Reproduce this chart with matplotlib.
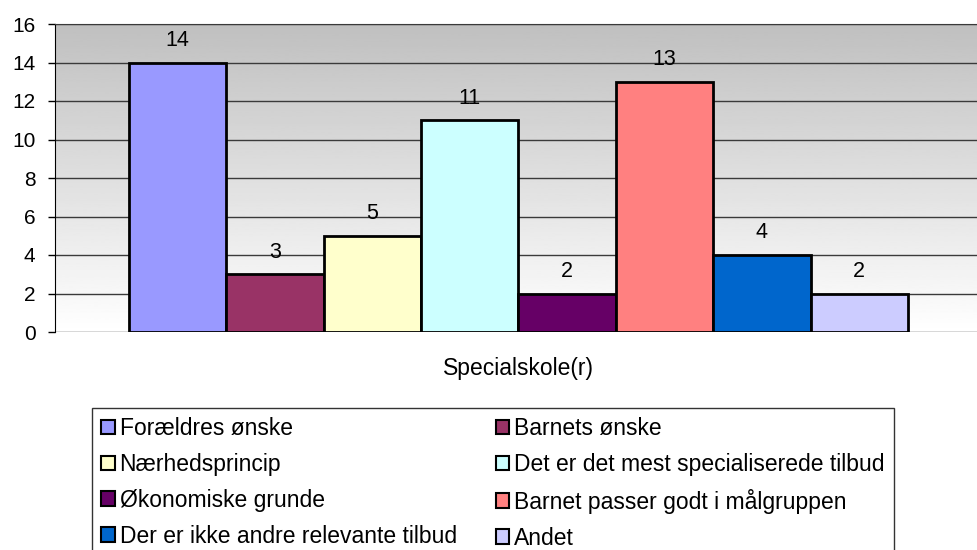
import numpy as np
import matplotlib.pyplot as plt
from matplotlib.patches import Patch

plt.rcParams['font.family'] = ['Liberation Sans', 'DejaVu Sans']

# data
categories = ['Forældres ønske', 'Barnets ønske', 'Nærhedsprincip',
              'Det er det mest specialiserede tilbud', 'Økonomiske grunde',
              'Barnet passer godt i målgruppen',
              'Der er ikke andre relevante tilbud', 'Andet']
values = [14, 3, 5, 11, 2, 13, 4, 2]
colors = ['#9999FF', '#993366', '#FFFFCC', '#CCFFFF',
          '#660066', '#FF8080', '#0066CC', '#CCCCFF']
group_label = 'Specialskole(r)'

fig = plt.figure(figsize=(9.77, 5.5), dpi=100)
ax = fig.add_axes([55 / 977, 1 - 332 / 550, 1 - 55 / 977, 308 / 550])

x = np.arange(len(values))
ax.set_xlim(-1.26, 8.21)
ax.set_ylim(0, 16)

# gray at the top fading to white at the bottom
grad = np.linspace(0.75, 1.0, 256).reshape(-1, 1)
ax.imshow(grad, cmap='gray', vmin=0, vmax=1, aspect='auto',
          extent=(-1.26, 8.21, 0, 16), origin='upper', zorder=0)

ax.set_yticks(np.arange(0, 17, 2))
ax.grid(axis='y', color='#3a3a3a', linewidth=1, zorder=1)
ax.set_axisbelow(True)

bars = ax.bar(x, values, width=1.0, color=colors, edgecolor='black',
              linewidth=2, zorder=3)

for xi, v in zip(x, values):
    ax.annotate(str(v), (xi, v), xytext=(0, 12), textcoords='offset points',
                ha='center', va='baseline', fontsize=15.5, zorder=4)

ax.set_xticks([(len(values) - 1) / 2])
ax.set_xticklabels([group_label])
ax.tick_params(axis='x', length=0, pad=18, labelsize=16.5)
ax.tick_params(axis='y', length=5, width=1, pad=9, labelsize=15)

for s in ['right', 'bottom']:
    ax.spines[s].set_visible(False)
ax.spines['top'].set_color('#3a3a3a')
ax.spines['left'].set_color('black')

# legend, filled row by row like the original
order = [0, 2, 4, 6, 1, 3, 5, 7]
handles = [Patch(facecolor=colors[i], edgecolor='black', linewidth=1.5,
                 label=categories[i]) for i in order]
leg = fig.legend(handles=handles, ncol=2, loc='upper left',
                 bbox_to_anchor=(92 / 977, 1 - 408 / 550),
                 borderaxespad=0, fontsize=16.5, frameon=True, fancybox=False,
                 edgecolor='black', handlelength=0.6, handleheight=0.6,
                 handletextpad=0.2, columnspacing=1.7, labelspacing=0.56,
                 borderpad=0.4)
leg.get_frame().set_linewidth(1)

fig.savefig('out.png', dpi=100)
